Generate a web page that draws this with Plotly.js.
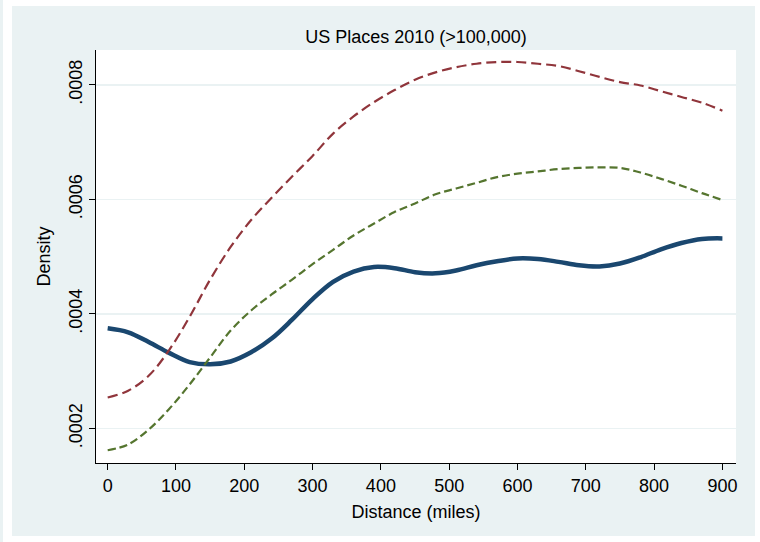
<!DOCTYPE html>
<html>
<head>
<meta charset="utf-8">
<script src="https://cdn.plot.ly/plotly-3.0.1.min.js"></script>
<style>
  html, body { margin: 0; padding: 0; background: #ffffff; }
  #wrap { position: relative; width: 760px; height: 542px; overflow: hidden; }
  #edge { position: absolute; left: 0; top: 0; width: 3px; height: 542px; background: #eaf2f3; }
  #region { position: absolute; left: 12px; top: 6px; width: 743px; height: 530px; background: #eaf2f3; }
  #chart { position: absolute; left: 0; top: 0; width: 760px; height: 542px; }
</style>
</head>
<body>
<div id="wrap">
  <div id="edge"></div>
  <div id="region"></div>
  <div id="chart"></div>
</div>
<script>
// Distance from city (miles), evaluated every 30 miles
const distance = [0, 30, 60, 90, 120, 150, 180, 210, 240, 270, 300, 330, 360, 390, 420, 450,
                  480, 510, 540, 570, 600, 630, 660, 690, 720, 750, 780, 810, 840, 870, 900];

// Kernel density estimates
const densityAll = [0.000375, 0.000368, 0.000351, 0.000332, 0.000316, 0.000312, 0.000317, 0.000333,
                    0.000357, 0.000390, 0.000426, 0.000456, 0.000474, 0.000482, 0.000480, 0.000473,
                    0.000471, 0.000476, 0.000485, 0.000492, 0.000497, 0.000496, 0.000491, 0.000485,
                    0.000483, 0.000488, 0.000499, 0.000513, 0.000524, 0.000531, 0.000532];

const densityRed = [0.000254, 0.000266, 0.000292, 0.000337, 0.000395, 0.000460, 0.000517, 0.000564,
                    0.000603, 0.000640, 0.000676, 0.000715, 0.000745, 0.000770, 0.000791, 0.000809,
                    0.000822, 0.000831, 0.000837, 0.000840, 0.000840, 0.000837, 0.000833, 0.000824,
                    0.000814, 0.000805, 0.000799, 0.000789, 0.000779, 0.000769, 0.000755];

const densityGreen = [0.000162, 0.000172, 0.000198, 0.000234, 0.000277, 0.000324, 0.000371, 0.000406,
                      0.000434, 0.000460, 0.000487, 0.000512, 0.000537, 0.000558, 0.000578, 0.000593,
                      0.000609, 0.000619, 0.000629, 0.000639, 0.000645, 0.000649, 0.000653, 0.000655,
                      0.000656, 0.000655, 0.000647, 0.000636, 0.000624, 0.000611, 0.000599];

// Axis ticks
const xTicks = [0, 100, 200, 300, 400, 500, 600, 700, 800, 900];
const yTicks = [0.0002, 0.0004, 0.0006, 0.0008];
const yTickLabels = ['.0002', '.0004', '.0006', '.0008'];

const FONT = 'Liberation Sans, Arial, Helvetica, sans-serif';
const BG = '#eaf2f3';

const traces = [
  {
    x: distance, y: densityAll, type: 'scatter', mode: 'lines',
    line: { color: '#1a476f', width: 4.5, shape: 'spline', smoothing: 1 },
    hoverinfo: 'skip'
  },
  {
    x: distance, y: densityRed, type: 'scatter', mode: 'lines',
    line: { color: '#90353b', width: 2.2, dash: '10px,5px', shape: 'spline', smoothing: 1 },
    hoverinfo: 'skip'
  },
  {
    x: distance, y: densityGreen, type: 'scatter', mode: 'lines',
    line: { color: '#55752f', width: 2.2, dash: '8px,4px', shape: 'spline', smoothing: 1 },
    hoverinfo: 'skip'
  }
];

const layout = {
  width: 760, height: 542,
  margin: { l: 96, r: 24, t: 50, b: 79, pad: 0 },
  paper_bgcolor: 'rgba(0,0,0,0)',
  plot_bgcolor: '#ffffff',
  showlegend: false,
  font: { family: FONT, size: 18, color: '#000000' },
  title: {
    text: 'US Places 2010 (>100,000)',
    font: { family: FONT, size: 18, color: '#000000' },
    x: 0.5, xref: 'paper', xanchor: 'center',
    y: 1 - 37 / 542, yref: 'container', yanchor: 'middle'
  },
  xaxis: {
    range: [-17.1, 919.9],
    tickvals: xTicks,
    ticks: 'outside', ticklen: 6, tickwidth: 1, tickcolor: '#000000',
    showline: true, linecolor: '#000000', linewidth: 1,
    showgrid: false, zeroline: false,
    tickfont: { family: FONT, size: 18, color: '#000000' },
    title: { text: 'Distance (miles)', font: { family: FONT, size: 18, color: '#000000' }, standoff: 10 }
  },
  yaxis: {
    range: [0.0001397, 0.000861],
    tickvals: yTicks,
    ticktext: yTickLabels,
    tickangle: -90,
    ticks: 'outside', ticklen: 6, tickwidth: 1, tickcolor: '#000000',
    showline: true, linecolor: '#000000', linewidth: 1,
    showgrid: true, gridcolor: BG, gridwidth: 1.5,
    zeroline: false,
    tickfont: { family: FONT, size: 18, color: '#000000' },
    title: { text: 'Density', font: { family: FONT, size: 18, color: '#000000' }, standoff: 10 }
  }
};

Plotly.newPlot('chart', traces, layout, { staticPlot: true, displayModeBar: false });
</script>
</body>
</html>
